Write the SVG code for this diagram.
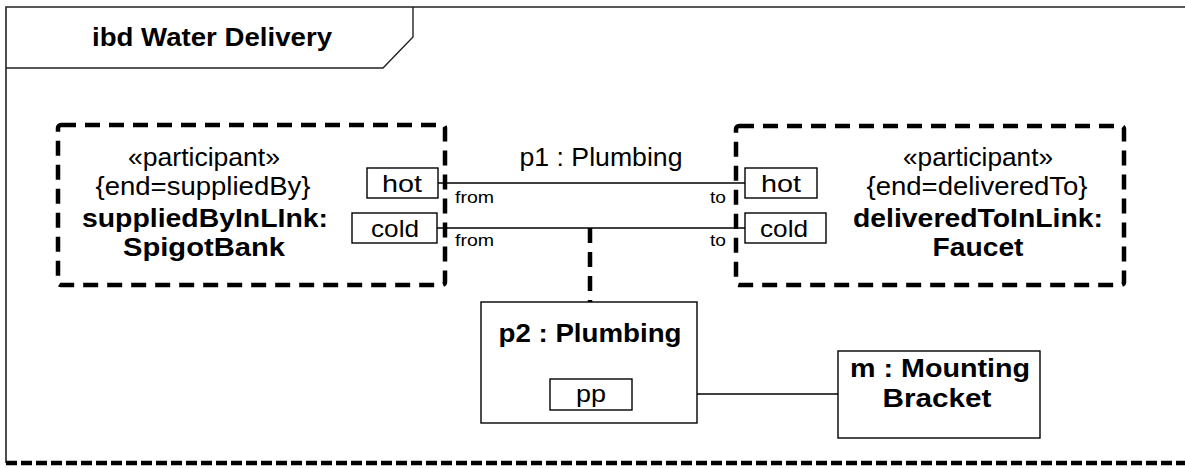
<svg xmlns="http://www.w3.org/2000/svg" width="1185" height="468" viewBox="0 0 1185 468">
<style>
text{font-family:"Liberation Sans",Arial,Helvetica,sans-serif;fill:#000}
.t{font-size:25px;text-anchor:middle}
.b{font-size:25px;font-weight:bold;text-anchor:middle}
.pl{font-size:24px;text-anchor:middle}
.s{font-size:17px}
.part{fill:none;stroke:#000;stroke-width:4.5;stroke-dasharray:15 9}
.box{fill:#fff;stroke:#000;stroke-width:1.4}
.port{fill:#fff;stroke:#000;stroke-width:1.4}
.conn{fill:none;stroke:#000;stroke-width:1.4}
.dconn{fill:none;stroke:#000;stroke-width:4.5;stroke-dasharray:15 9}
</style>
<rect x="0" y="0" width="1185" height="468" fill="#fff"/>
<g id="frame">
<path d="M6,463 V7 H1185" fill="none" stroke="#222" stroke-width="1.6"/>
<path d="M6,68 H383 L413,37 V7" fill="none" stroke="#222" stroke-width="1.4"/>
<line x1="6" y1="463" x2="1185" y2="463" stroke="#000" stroke-width="4.5" stroke-dasharray="11 4"/>
<text class="b" x="212" y="46" textLength="240" lengthAdjust="spacingAndGlyphs">ibd Water Delivery</text>
</g>
<g id="connectors">
<line class="conn" x1="438" y1="183" x2="745" y2="183"/>
<line class="conn" x1="437" y1="228" x2="745" y2="228"/>
<line class="dconn" x1="590" y1="228" x2="590" y2="302"/>
<line class="conn" x1="632" y1="394" x2="838" y2="394"/>
<text class="t" x="601" y="166" textLength="163" lengthAdjust="spacingAndGlyphs">p1 : Plumbing</text>
<text class="s" x="455" y="203" textLength="39" lengthAdjust="spacingAndGlyphs">from</text>
<text class="s" x="455" y="246" textLength="39" lengthAdjust="spacingAndGlyphs">from</text>
<text class="s" x="710" y="203" textLength="16" lengthAdjust="spacingAndGlyphs">to</text>
<text class="s" x="710" y="246" textLength="16" lengthAdjust="spacingAndGlyphs">to</text>
</g>
<g id="suppliedBy">
<rect class="part" x="58" y="125" width="387" height="160" rx="3"/>
<text class="t" x="204" y="166" textLength="152" lengthAdjust="spacingAndGlyphs">«participant»</text>
<text class="t" x="203" y="195" textLength="215" lengthAdjust="spacingAndGlyphs">{end=suppliedBy}</text>
<text class="b" x="205" y="227" textLength="246" lengthAdjust="spacingAndGlyphs">suppliedByInLInk:</text>
<text class="b" x="204" y="256" textLength="162" lengthAdjust="spacingAndGlyphs">SpigotBank</text>
</g>
<g id="port-left-hot">
<rect class="port" x="367" y="168" width="71" height="30"/>
<text class="pl" x="402" y="192" textLength="40" lengthAdjust="spacingAndGlyphs">hot</text>
</g>
<g id="port-left-cold">
<rect class="port" x="352" y="213" width="85" height="30"/>
<text class="pl" x="395" y="237" textLength="48" lengthAdjust="spacingAndGlyphs">cold</text>
</g>
<g id="deliveredTo">
<rect class="part" x="736" y="126" width="388" height="159" rx="3"/>
<text class="t" x="978" y="166" textLength="150" lengthAdjust="spacingAndGlyphs">«participant»</text>
<text class="t" x="977" y="195" textLength="221" lengthAdjust="spacingAndGlyphs">{end=deliveredTo}</text>
<text class="b" x="978" y="227" textLength="250" lengthAdjust="spacingAndGlyphs">deliveredToInLink:</text>
<text class="b" x="978" y="256" textLength="91" lengthAdjust="spacingAndGlyphs">Faucet</text>
</g>
<g id="port-right-hot">
<rect class="port" x="745" y="168" width="72" height="30"/>
<text class="pl" x="781" y="192" textLength="40" lengthAdjust="spacingAndGlyphs">hot</text>
</g>
<g id="port-right-cold">
<rect class="port" x="745" y="213" width="81" height="30"/>
<text class="pl" x="784" y="237" textLength="48" lengthAdjust="spacingAndGlyphs">cold</text>
</g>
<g id="p2">
<rect class="box" x="481" y="302" width="216" height="121"/>
<text class="b" x="590" y="342" textLength="183" lengthAdjust="spacingAndGlyphs">p2 : Plumbing</text>
</g>
<g id="port-pp">
<rect class="port" x="550" y="379" width="82" height="31"/>
<text class="pl" x="591" y="402" textLength="30" lengthAdjust="spacingAndGlyphs">pp</text>
</g>
<g id="m">
<rect class="box" x="838" y="351" width="202" height="87"/>
<text class="b" x="940" y="377" textLength="180" lengthAdjust="spacingAndGlyphs">m : Mounting</text>
<text class="b" x="937" y="407" textLength="109" lengthAdjust="spacingAndGlyphs">Bracket</text>
</g>
</svg>
